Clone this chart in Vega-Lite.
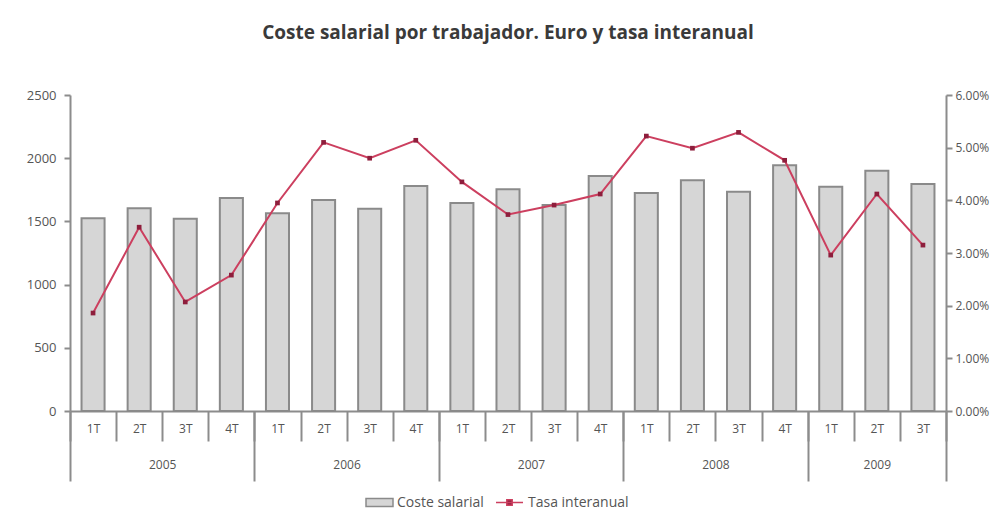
{
  "$schema": "https://vega.github.io/schema/vega-lite/v6.json",
  "width": 876,
  "height": 316,
  "autosize": "none",
  "padding": {"left": 70, "top": 95, "right": 62, "bottom": 109},
  "background": "white",
  "title": {"text": "Coste salarial por trabajador. Euro y tasa interanual", "fontSize": 19, "fontWeight": "bold", "color": "#3a3a3a", "font": "Open Sans", "offset": 46, "anchor": "middle"},
  "config": {"view": {"stroke": null}, "font": "Open Sans"},
  "data": {"values": [
    {"key": "2005-1T", "coste": 1525, "tasa": 0.0186},
    {"key": "2005-2T", "coste": 1605, "tasa": 0.0349},
    {"key": "2005-3T", "coste": 1520, "tasa": 0.0207},
    {"key": "2005-4T", "coste": 1685, "tasa": 0.0258},
    {"key": "2006-1T", "coste": 1565, "tasa": 0.0395},
    {"key": "2006-2T", "coste": 1670, "tasa": 0.0510},
    {"key": "2006-3T", "coste": 1600, "tasa": 0.0480},
    {"key": "2006-4T", "coste": 1780, "tasa": 0.0514},
    {"key": "2007-1T", "coste": 1645, "tasa": 0.0435},
    {"key": "2007-2T", "coste": 1755, "tasa": 0.0373},
    {"key": "2007-3T", "coste": 1630, "tasa": 0.0391},
    {"key": "2007-4T", "coste": 1860, "tasa": 0.0412},
    {"key": "2008-1T", "coste": 1725, "tasa": 0.0522},
    {"key": "2008-2T", "coste": 1825, "tasa": 0.0499},
    {"key": "2008-3T", "coste": 1735, "tasa": 0.0529},
    {"key": "2008-4T", "coste": 1945, "tasa": 0.0476},
    {"key": "2009-1T", "coste": 1775, "tasa": 0.0296},
    {"key": "2009-2T", "coste": 1900, "tasa": 0.0412},
    {"key": "2009-3T", "coste": 1795, "tasa": 0.0315}
  ]},
  "layer": [
    {
      "mark": {"type": "bar", "width": {"band": 0.5}, "stroke": "#8a8a8a", "strokeWidth": 2},
      "encoding": {
        "x": {"field": "key", "type": "ordinal", "sort": null,
          "scale": {"paddingInner": 0, "paddingOuter": 0},
          "axis": {"orient": "bottom", "title": null, "labelExpr": "isString(datum.value) ? split(datum.value, '-')[1] : ''", "tickBand": "extent", "tickSize": 30, "tickColor": "#8c8c8c", "tickWidth": 2, "labelPadding": -18, "labelAngle": 0, "labelFontSize": 12, "labelColor": "#555555", "domainColor": "#8c8c8c", "domainWidth": 2}},
        "y": {"field": "coste", "type": "quantitative",
          "scale": {"domain": [0, 2500]},
          "axis": {"orient": "left", "title": null, "values": [0, 500, 1000, 1500, 2000, 2500], "format": "d", "grid": false, "tickSize": 6, "tickColor": "#8c8c8c", "tickWidth": 2, "domainColor": "#8c8c8c", "domainWidth": 2, "labelFontSize": 13, "labelColor": "#555555", "labelPadding": 8}},
        "fill": {"datum": "Coste salarial", "type": "nominal",
          "scale": {"domain": ["Coste salarial"], "range": ["#d6d6d6"]},
          "legend": {"title": null, "orient": "none", "legendX": 295, "legendY": 393, "direction": "horizontal", "labelFontSize": 14, "labelColor": "#555555", "labelOffset": 3, "symbolType": "M-1,-0.3H1V0.3H-1Z", "symbolSize": 729, "symbolStrokeColor": "#8a8a8a", "symbolStrokeWidth": 1.5}}
      }
    },
    {
      "mark": {"type": "line", "strokeWidth": 2},
      "encoding": {
        "x": {"field": "key", "type": "ordinal", "sort": null,
          "axis": {"orient": "bottom", "title": null, "domain": false, "tickBand": "extent", "tickSize": 70, "tickWidth": 2, "tickColor": "#8c8c8c",
            "tickOpacity": {"condition": {"test": "!isString(datum.value) || indexof(['2005-4T','2006-4T','2007-4T','2008-4T','2009-3T'], datum.value) >= 0", "value": 1}, "value": 0},
            "labelExpr": "isString(datum.value) && indexof(datum.value, '2T') >= 0 ? split(datum.value, '-')[0] : ''",
            "labelOffset": {"condition": {"test": "datum.value === '2009-2T'", "value": 0}, "value": 23},
            "labelPadding": -22, "labelAngle": 0, "labelFontSize": 12, "labelColor": "#555555"}},
        "y": {"field": "tasa", "type": "quantitative",
          "scale": {"domain": [0, 0.06]},
          "axis": {"orient": "right", "title": null, "format": ".2%", "values": [0, 0.01, 0.02, 0.03, 0.04, 0.05, 0.06], "grid": false, "tickSize": 6, "tickColor": "#8c8c8c", "tickWidth": 2, "domainColor": "#8c8c8c", "domainWidth": 2, "labelFontSize": 12, "labelColor": "#555555", "labelPadding": 3}},
        "stroke": {"datum": "Tasa interanual", "type": "nominal",
          "scale": {"domain": ["Tasa interanual"], "range": ["#cc3f5f"]},
          "legend": {"title": null, "orient": "none", "legendX": 425, "legendY": 393, "direction": "horizontal", "labelFontSize": 14, "labelColor": "#555555", "labelOffset": 4, "symbolType": "M-1,0H1M-0.2,-0.2H0.2V0.2H-0.2Z", "symbolSize": 729, "symbolFillColor": "#8e1e3c", "symbolStrokeWidth": 1.5}}
      }
    },
    {
      "mark": {"type": "point", "shape": "square", "size": 22, "filled": true, "color": "#8e1e3c", "opacity": 1},
      "encoding": {
        "x": {"field": "key", "type": "ordinal", "sort": null, "axis": null},
        "y": {"field": "tasa", "type": "quantitative", "scale": {"domain": [0, 0.06]}, "axis": null}
      }
    }
  ],
  "resolve": {"scale": {"y": "independent"}, "axis": {"x": "independent"}}
}
